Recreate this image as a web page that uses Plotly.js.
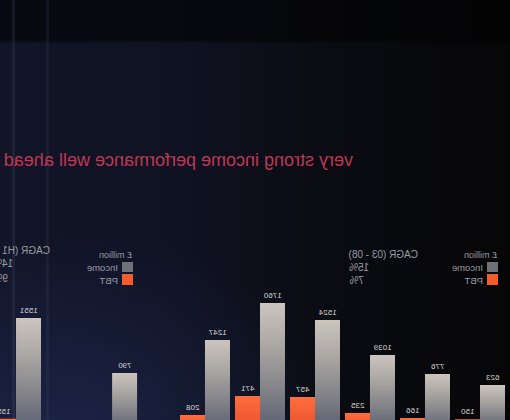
<!DOCTYPE html>
<html>
<head>
<meta charset="utf-8">
<script src="https://cdn.plot.ly/plotly-3.0.1.min.js"></script>
<style>
  html, body { margin: 0; padding: 0; background: #08090d; overflow: hidden; }
  #wrap {
    width: 510px; height: 420px; overflow: hidden; position: relative;
    background:
      linear-gradient(to right, transparent 12px, rgba(70,78,110,0.22) 12px, rgba(70,78,110,0.22) 15px, transparent 15px),
      linear-gradient(to right, transparent 46px, rgba(70,78,110,0.16) 46px, rgba(70,78,110,0.16) 49px, transparent 49px),
      linear-gradient(to bottom, rgba(0,0,0,0.55) 0px, rgba(0,0,0,0.55) 40px, rgba(0,0,0,0) 44px),
      radial-gradient(ellipse 260px 200px at 70px 430px, rgba(38,50,100,0.5), rgba(38,50,100,0) 100%),
      linear-gradient(to right, #111527 0%, #0f1222 35%, #0b0c13 62%, #060607 100%);
  }
  #plot { width: 510px; height: 420px; transform: scaleX(-1); }
</style>
</head>
<body>
<div id="wrap"><div id="plot"></div></div>
<script>
// Chart 1: annual figures, £ million
const years = ['2003', '2004', '2005', '2006', '2007', '2008'];
const income = [623, 776, 1039, 1524, 1760, 1247];
const pbt = [150, 166, 235, 457, 471, 208];

// Chart 2: half-year figures, £ million
const halfYears = ['H1 03', 'H1 08'];
const incomeH1 = [790, 1551];
const pbtH1 = [100, 155];

const legendTitle = '£ million';
const seriesNames = ['Income', 'PBT'];
const cagrLabel1 = 'CAGR (03 - 08)';
const cagrValues1 = ['15%', '7%'];
const cagrLabel2 = 'CAGR (H1 03 - 08)';
const cagrValues2 = ['14%', '9%'];
const headline = 'very strong income performance well ahead of the market';

const GREY = '#a9a6a3';
const ORANGE = '#f25d30';
const FONT = 'Liberation Sans, Arial, sans-serif';
const txt = (size, color) => ({ family: FONT, size: size, color: color });
const labelFont = txt(8, '#d6d4d2');

function barTrace(x, y, name, color, xa, ya, width, offset) {
  return {
    type: 'bar', x: x, y: y, name: name, xaxis: xa, yaxis: ya,
    marker: { color: color, line: { width: 0 } },
    width: width, offset: offset,
    text: y.map(v => String(v)), textposition: 'outside', cliponaxis: false,
    textfont: labelFont, showlegend: false, hoverinfo: 'skip'
  };
}

const w1 = 0.4545, w2 = 0.26;
const data = [
  barTrace(years, income, seriesNames[0], GREY, 'x', 'y', w1, -w1),
  barTrace(years, pbt, seriesNames[1], ORANGE, 'x', 'y', w1, 0),
  barTrace(halfYears, incomeH1, seriesNames[0], GREY, 'x2', 'y2', w2, -w2),
  barTrace(halfYears, pbtH1, seriesNames[1], ORANGE, 'x2', 'y2', w2, 0)
];

const hidden = { showgrid: false, zeroline: false, showline: false, showticklabels: false, ticks: '', fixedrange: true };
const yRange = [138, 3462];

// paper helpers (pixel positions in the un-mirrored chart)
const px = v => v / 510, py = v => 1 - v / 420;

function note(x, y, text, size, color, anchor) {
  return { xref: 'paper', yref: 'paper', x: px(x), y: py(y), xanchor: anchor, yanchor: 'middle',
           showarrow: false, text: text, font: txt(size, color) };
}

function legendBlock(x0, y0) {
  const c = '#9a9ba3';
  return {
    notes: [
      note(x0 - 1, y0, legendTitle, 9, c, 'left'),
      note(x0 + 13, y0 + 12, seriesNames[0], 9.5, c, 'left'),
      note(x0 + 13, y0 + 25, seriesNames[1], 9.5, c, 'left')
    ],
    shapes: [
      { type: 'rect', xref: 'paper', yref: 'paper', x0: px(x0), x1: px(x0 + 11), y0: py(y0 + 17), y1: py(y0 + 7),
        fillcolor: '#707077', line: { width: 0 } },
      { type: 'rect', xref: 'paper', yref: 'paper', x0: px(x0), x1: px(x0 + 11), y0: py(y0 + 30), y1: py(y0 + 19),
        fillcolor: ORANGE, line: { width: 0 } }
    ]
  };
}
const lg1 = legendBlock(12, 255);
const lg2 = legendBlock(377, 255);

const cc = '#9c9ca4';
const layout = {
  width: 510, height: 420,
  margin: { l: 0, r: 0, t: 0, b: 0, pad: 0 },
  paper_bgcolor: 'rgba(0,0,0,0)', plot_bgcolor: 'rgba(0,0,0,0)',
  showlegend: false,
  xaxis: Object.assign({ domain: [0.0049, 0.652], range: [-0.5, 5.5], anchor: 'y', type: 'category' }, hidden),
  yaxis: Object.assign({ domain: [0, 0.5714], range: yRange, anchor: 'x' }, hidden),
  xaxis2: Object.assign({ domain: [0.686, 1], range: [-0.5, 1.1667], anchor: 'y2', type: 'category' }, hidden),
  yaxis2: Object.assign({ domain: [0, 0.5714], range: yRange, anchor: 'x2' }, hidden),
  shapes: lg1.shapes.concat(lg2.shapes),
  annotations: [
    note(155, 160, headline, 18, '#be3854', 'left'),
    note(163, 255, cagrLabel1, 10, cc, 'right'),
    note(163, 267, cagrValues1[0], 10, cc, 'right'),
    note(163, 280, cagrValues1[1], 10, cc, 'right'),
    note(458, 250, cagrLabel2, 10, cc, 'left'),
    note(519, 263, cagrValues2[0], 10, cc, 'right'),
    note(519, 278, cagrValues2[1], 10, cc, 'right')
  ].concat(lg1.notes, lg2.notes)
};

const gd = document.getElementById('plot');
Plotly.newPlot(gd, data, layout, { displayModeBar: false, staticPlot: true }).then(function () {
  const NS = 'http://www.w3.org/2000/svg';
  const svg = gd.querySelector('.main-svg');
  let defs = svg.querySelector('defs');
  if (!defs) { defs = document.createElementNS(NS, 'defs'); svg.insertBefore(defs, svg.firstChild); }
  function grad(id, stops) {
    const g = document.createElementNS(NS, 'linearGradient');
    g.setAttribute('id', id);
    g.setAttribute('x1', '0'); g.setAttribute('y1', '0'); g.setAttribute('x2', '0'); g.setAttribute('y2', '1');
    stops.forEach(s => {
      const st = document.createElementNS(NS, 'stop');
      st.setAttribute('offset', s[0]); st.setAttribute('stop-color', s[1]);
      g.appendChild(st);
    });
    defs.appendChild(g);
  }
  grad('greyGrad', [['0', '#cbc5be'], ['0.35', '#a9a5a1'], ['0.75', '#7a7b83'], ['1', '#5a5e70']]);
  grad('orangeGrad', [['0', '#ff6d3e'], ['1', '#e9502b']]);
  gd.querySelectorAll('.barlayer .trace').forEach(function (tr, i) {
    const id = (i % 2 === 0) ? 'greyGrad' : 'orangeGrad';
    tr.querySelectorAll('path').forEach(function (p) { p.style.fill = 'url(#' + id + ')'; });
  });
});
</script>
</body>
</html>
